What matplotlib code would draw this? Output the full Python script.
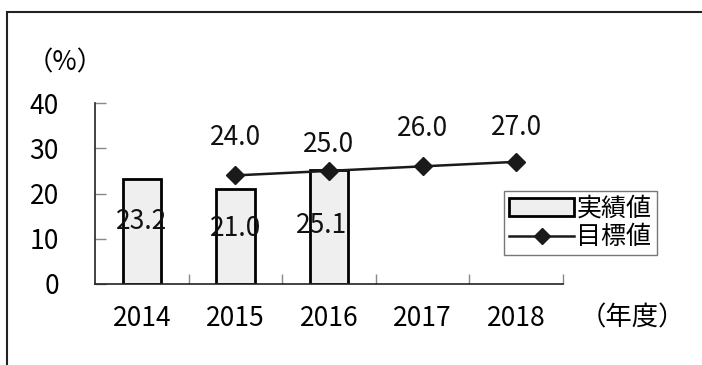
import matplotlib
matplotlib.use("Agg")
import matplotlib.pyplot as plt
from matplotlib.patches import Rectangle, Patch
from matplotlib.lines import Line2D

plt.rcParams['font.family'] = ['Noto Sans CJK JP', 'DejaVu Sans']

years = ['2014', '2015', '2016', '2017', '2018']
actual = [23.2, 21.0, 25.1]
target = [24.0, 25.0, 26.0, 27.0]
# label offsets above the target markers (points)
target_label_dy = [27, 19, 27, 25]
# label offsets inside the bars (points)
actual_label_dx = [0, 0, -5]
actual_label_dy = [7, 6, 1]

fig = plt.figure(figsize=(7.02, 3.65), dpi=100)
fig.patches.append(Rectangle((7 / 702, -0.1), 1.2, 1.1 - 12 / 365,
                             transform=fig.transFigure, fill=False,
                             edgecolor='#222222', linewidth=1.5))

ax = fig.add_axes([95 / 702, 1 - 284 / 365, (563 - 95) / 702, (284 - 103) / 365])

x_act = list(range(len(actual)))
x_tgt = list(range(1, 1 + len(target)))

ax.bar(x_act, actual, width=0.41, color='#efefef', edgecolor='black', linewidth=2, zorder=2)
ax.plot(x_tgt, target, color='#1a1a1a', linewidth=1.8, marker='D', markersize=9, zorder=3)

for xi, v, dx, dy in zip(x_act, actual, actual_label_dx, actual_label_dy):
    ax.annotate(f'{v:.1f}', (xi, v / 2), xytext=(dx, dy), textcoords='offset points',
                ha='center', va='center', fontsize=19, color='#111111', zorder=4)
for xi, v, dy in zip(x_tgt, target, target_label_dy):
    ax.annotate(f'{v:.1f}', (xi, v), xytext=(0, dy), textcoords='offset points',
                ha='center', va='center', fontsize=19, color='#111111')

ax.set_xlim(-0.5, len(years) - 0.5)
ax.set_ylim(0, 40)
ax.set_yticks([0, 10, 20, 30, 40])
ax.set_xticks(range(len(years)))
ax.set_xticklabels(years)
ax.set_xticks([i + 0.5 for i in range(len(years))], minor=True)
ax.tick_params(axis='x', which='major', length=0, pad=15, labelsize=19)
ax.tick_params(axis='x', which='minor', direction='in', length=7, color='#888888', width=1)
ax.tick_params(axis='y', direction='in', length=8, color='#888888', width=1, pad=26, labelsize=19)

for s in ['top', 'right']:
    ax.spines[s].set_visible(False)
ax.spines['left'].set_color('#222222')
ax.spines['bottom'].set_color('#222222')
ax.spines['left'].set_linewidth(1.2)
ax.spines['bottom'].set_linewidth(1.2)

fig.text(27 / 702, 1 - 63 / 365, '（%）', fontsize=19, va='center', ha='left')
fig.text(580 / 702, 1 - 318 / 365, '（年度）', fontsize=19, va='center', ha='left')

handles = [Patch(facecolor='#efefef', edgecolor='black', linewidth=2),
           Line2D([], [], color='#1a1a1a', linewidth=1.8, marker='D', markersize=8)]
leg = ax.legend(handles, ['実績値', '目標値'], loc='upper left',
                bbox_to_anchor=(504 / 702, 1 - 191 / 365), bbox_transform=fig.transFigure,
                fontsize=18, frameon=True, fancybox=False, edgecolor='#555555',
                borderpad=0.2, handlelength=2.6, handletextpad=0.1, labelspacing=0.1,
                borderaxespad=0)
leg.get_frame().set_linewidth(1)

fig.savefig('out.png', dpi=100)
